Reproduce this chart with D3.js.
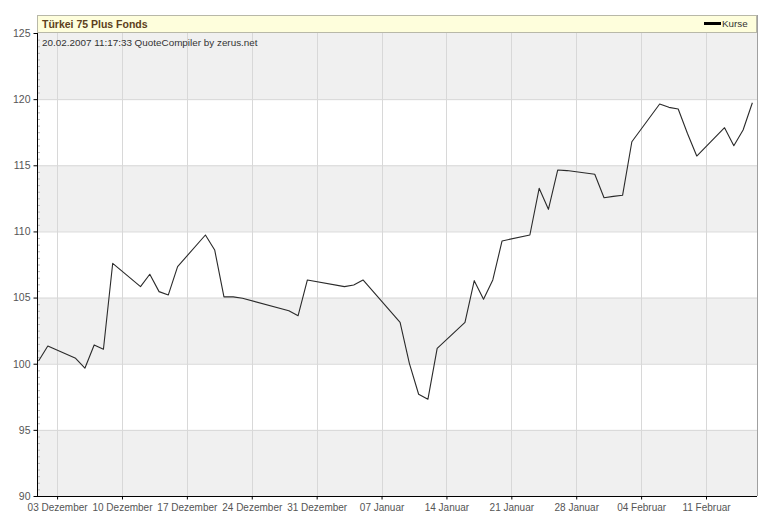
<!DOCTYPE html>
<html>
<head>
<meta charset="utf-8">
<script src="https://cdn.jsdelivr.net/npm/d3@7"></script>
<style>
  html, body { margin: 0; padding: 0; background: #fff; }
  svg { display: block; }
  text { font-family: "Liberation Sans", Arial, sans-serif; }
</style>
</head>
<body>
<svg id="chart" width="770" height="525"></svg>
<script>
// ---- data ----
const title = "Türkei 75 Plus Fonds";
const subtitle = "20.02.2007 11:17:33 QuoteCompiler by zerus.net";
const seriesName = "Kurse";

const dates = [
  "2006-12-01","2006-12-02","2006-12-05","2006-12-06","2006-12-07","2006-12-08","2006-12-09",
  "2006-12-12","2006-12-13","2006-12-14","2006-12-15","2006-12-16",
  "2006-12-19","2006-12-20","2006-12-21","2006-12-22","2006-12-23",
  "2006-12-28","2006-12-29","2006-12-30",
  "2007-01-03","2007-01-04","2007-01-05",
  "2007-01-09","2007-01-10","2007-01-11","2007-01-12","2007-01-13",
  "2007-01-16","2007-01-17","2007-01-18","2007-01-19","2007-01-20",
  "2007-01-23","2007-01-24","2007-01-25","2007-01-26","2007-01-27",
  "2007-01-30","2007-01-31","2007-02-01","2007-02-02","2007-02-03",
  "2007-02-06","2007-02-07","2007-02-08","2007-02-09","2007-02-10",
  "2007-02-13","2007-02-14","2007-02-15","2007-02-16"
];
const values = [
  100.2, 101.34, 100.41, 99.66, 101.42, 101.09, 107.59,
  105.83, 106.76, 105.45, 105.2, 107.34,
  109.73, 108.6, 105.05, 105.05, 104.95,
  104.01, 103.63, 106.33,
  105.83, 105.95, 106.33,
  103.13, 100.03, 97.69, 97.31, 101.16,
  103.13, 106.28, 104.87, 106.33, 109.28,
  109.73, 113.26, 111.67, 114.64, 114.6,
  114.32, 112.55, 112.65, 112.73, 116.78,
  119.63, 119.38, 119.25, 117.4, 115.7,
  117.84, 116.48, 117.67, 119.73
];

const xTickDates = ["2006-12-03","2006-12-10","2006-12-17","2006-12-24","2006-12-31",
  "2007-01-07","2007-01-14","2007-01-21","2007-01-28","2007-02-04","2007-02-11"];
const xTickLabels = ["03 Dezember","10 Dezember","17 Dezember","24 Dezember","31 Dezember",
  "07 Januar","14 Januar","21 Januar","28 Januar","04 Februar","11 Februar"];
const yTicks = [90, 95, 100, 105, 110, 115, 120, 125];

// ---- setup ----
const parse = s => { const [y, m, d] = s.split("-").map(Number); return new Date(y, m - 1, d); };
const data = dates.map((d, i) => ({ date: parse(d), value: values[i] }));
const tickDates = xTickDates.map(parse);

const L = 37, R = 757, T = 33, B = 496;
const svg = d3.select("#chart");

const x = d3.scaleTime()
  .domain([new Date(2006, 10, 30, 20), new Date(2007, 1, 16, 12)])
  .range([L, R]);
const y = d3.scaleLinear().domain([90, 125]).range([B, T]);

// bands
const bands = d3.pairs(yTicks);
svg.append("g").selectAll("rect").data(bands).join("rect")
  .attr("x", L).attr("width", R - L)
  .attr("y", d => y(d[1])).attr("height", d => y(d[0]) - y(d[1]))
  .attr("fill", (d, i) => i % 2 === 0 ? "#f0f0f0" : "#ffffff");

// horizontal grid
svg.append("g").selectAll("line").data(yTicks.slice(1, -1)).join("line")
  .attr("x1", L).attr("x2", R)
  .attr("y1", d => y(d) + 0.5).attr("y2", d => y(d) + 0.5)
  .attr("stroke", "#d6d6d6");

// vertical grid
svg.append("g").selectAll("line").data(tickDates).join("line")
  .attr("x1", d => Math.round(x(d)) + 0.5).attr("x2", d => Math.round(x(d)) + 0.5)
  .attr("y1", T).attr("y2", B)
  .attr("stroke", "#d8d8d8");

// right border
svg.append("line").attr("x1", R + 0.5).attr("x2", R + 0.5).attr("y1", 15).attr("y2", B)
  .attr("stroke", "#a0a0a0");

// title bar
svg.append("rect").attr("x", L + 0.5).attr("y", 15.5).attr("width", R - L - 1).attr("height", 17)
  .attr("fill", "#fefedc").attr("stroke", "#b8b8a8");
svg.append("text").attr("x", 42).attr("y", 28)
  .attr("font-size", "10.5px").attr("font-weight", "bold").attr("fill", "#5c4020")
  .text(title);
svg.append("text").attr("x", 42).attr("y", 46)
  .attr("font-size", "9.9px").attr("fill", "#333")
  .text(subtitle);

// legend
svg.append("line").attr("x1", 704).attr("x2", 721).attr("y1", 23.5).attr("y2", 23.5)
  .attr("stroke", "#000").attr("stroke-width", 3);
svg.append("text").attr("x", 722).attr("y", 27)
  .attr("font-size", "9.8px").attr("fill", "#333").text(seriesName);

// line
const line = d3.line().x(d => x(d.date)).y(d => y(d.value));
svg.append("path").datum(data)
  .attr("fill", "none").attr("stroke", "#2a2a2a").attr("stroke-width", 1.1)
  .attr("stroke-linejoin", "round")
  .attr("d", line);

// y axis
const yAxis = svg.append("g").attr("transform", `translate(${L + 0.5},0)`)
  .call(d3.axisLeft(y).tickValues(yTicks).tickSize(4).tickPadding(3).tickFormat(d3.format("d")));
yAxis.select(".domain").attr("stroke", "#000").attr("d", `M0,${T}V${B}`);
yAxis.selectAll(".tick line").attr("stroke", "#000");
yAxis.selectAll("text").attr("font-size", "10.5px").attr("fill", "#555")
  .attr("font-family", "'Liberation Sans', Arial, sans-serif");
// minor y ticks
const yMinor = d3.range(90, 125.01, 0.5).filter(v => v % 5 !== 0);
svg.append("g").selectAll("line").data(yMinor).join("line")
  .attr("x1", L + 1).attr("x2", L + 3)
  .attr("y1", d => y(d) + 0.5).attr("y2", d => y(d) + 0.5)
  .attr("stroke", "#bbb");

// x axis
const xAxis = svg.append("g").attr("transform", `translate(0,${B + 0.5})`)
  .call(d3.axisBottom(x).tickValues(tickDates).tickSize(3).tickPadding(4)
    .tickFormat((d, i) => xTickLabels[i]));
xAxis.select(".domain").attr("stroke", "#000").attr("d", `M${L},0H${R}`);
xAxis.selectAll(".tick line").attr("stroke", "#000");
xAxis.selectAll("text").attr("font-size", "10px").attr("fill", "#555")
  .attr("font-family", "'Liberation Sans', Arial, sans-serif");
</script>
</body>
</html>
